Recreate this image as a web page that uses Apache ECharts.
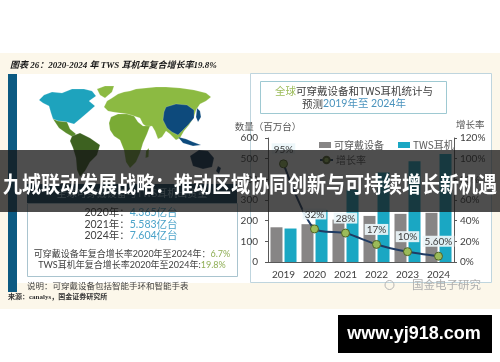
<!DOCTYPE html>
<html>
<head>
<meta charset="utf-8">
<script src="https://cdn.jsdelivr.net/npm/echarts@6/dist/echarts.min.js"></script>
<style>
html,body{margin:0;padding:0;background:#fff;}
#c{width:500px;height:362px;}
</style>
</head>
<body>
<div id="c"></div>
<script>
// ---- data ----
const years = ['2019', '2020', '2021', '2022', '2023', '2024'];
const wearables = [168, 183, 205, 223, 233, 238];
const tws = [162, 252, 350, 433, 487, 522];
const growth = [95, 32, 28, 17, 10, 5.6];
const growthLabels = ['95%', '32%', '28%', '17%', '10%', '5.60%'];
const seriesNames = ['可穿戴设备', 'TWS耳机', '增长率'];
const summaryYears = ['2020年：', '2021年：', '2024年：'];
const summaryValues = ['4.365亿台', '5.583亿台', '7.604亿台'];

const CJK = '"Noto Sans CJK SC", sans-serif';
const NUM = 'Lato, "Noto Sans CJK SC", sans-serif';

function poly(points, fill) {
  return { type: 'polygon', z: 1, shape: { points: points },
    style: { fill: fill, stroke: 'rgba(255,255,255,0.6)', lineWidth: 0.3 }, silent: true };
}

const mapEls = [
  // Eurasia (Europe, Middle East, Russia, India, SE Asia)
  poly([[104,107],[107,101],[112,98],[118,94],[124,92],[130,91],[136,89],[146,88],[156,87],[166,87],[180,88],[194,90],[206,93],[211,97],[206,101],[200,104],[196,110],[194,117],[189,125],[184,131],[180,138],[176,140],[170,134],[166,131],[162,137],[158,139],[155,131],[152,126],[147,127],[143,124],[140,118],[134,116],[127,114],[120,113],[113,112],[108,111]], '#8cba42'),
  // Africa
  poly([[111,117],[118,114],[127,114],[134,116],[138,122],[143,126],[150,126],[147,134],[143,143],[140,153],[136,162],[130,168],[126,162],[124,150],[120,140],[114,136],[110,130],[109,123]], '#7aab35'),
  poly([[146,151],[149,148],[148.5,157],[145.5,158]], '#7aab35'),
  // North America
  poly([[39,100],[44,95],[52,92],[62,93],[72,89],[84,89],[92,91],[96,96],[89,101],[95,106],[87,113],[80,119],[74,124],[67,122],[58,121],[53,119],[51,113],[49,106],[43,103]], '#1ea3bd'),
  // Greenland
  poly([[97,89],[105,86],[114,86],[112,92],[105,98],[100,95]], '#8cba42'),
  // Central America
  poly([[53,119],[58,121],[67,122],[70,129],[76,134],[73,137],[66,133],[59,128]], '#5a8c2c'),
  // South America
  poly([[72,136],[80,133],[90,138],[100,145],[97,155],[90,162],[85,171],[80,177],[77,170],[76,158],[73,148],[70,141]], '#3d6120'),
  // East Asia
  poly([[166,107],[176,104],[187,105],[194,110],[194,118],[188,125],[183,130],[178,135],[172,132],[167,128],[163,120],[164,112]], '#0d4a7c'),
  poly([[197,108],[200,111],[201,117],[198,122],[196,117]], '#0d4a7c'),
  poly([[178,137],[186,139],[193,142],[201,145],[193,146],[183,143]], '#0d4a7c'),
  // Australia
  poly([[190,156],[199,150],[208,151],[214,158],[212,167],[203,169],[193,166]], '#0b2f50'),
  poly([[218,166],[221,168],[219,174],[216,171]], '#0b2f50')
];

const chart = echarts.init(document.getElementById('c'), null, { renderer: 'canvas' });

const option = {
  backgroundColor: '#ffffff',
  animation: false,
  textStyle: { fontFamily: CJK },
  grid: { left: 268, right: 46, top: 138, bottom: 100, containLabel: false },
  legend: [
    {
      data: [seriesNames[0], seriesNames[1]],
      left: 314, top: 135, itemWidth: 12, itemHeight: 6, itemGap: 14,
      textStyle: { fontSize: 10, color: '#595959', fontFamily: CJK, padding: [0, 0, 0, -2] },
      icon: 'rect'
    },
    {
      data: [seriesNames[2]],
      left: 314, top: 150, itemWidth: 13, itemHeight: 8,
      textStyle: { fontSize: 10, color: '#595959', fontFamily: CJK, padding: [0, 0, 0, -2] }
    }
  ],
  xAxis: {
    type: 'category',
    data: years,
    axisLine: { lineStyle: { color: '#595959', width: 1 } },
    axisTick: { show: false },
    axisLabel: { fontSize: 10, color: '#404040', margin: 8, fontFamily: NUM }
  },
  yAxis: [
    {
      type: 'value', min: 0, max: 600, interval: 100,
      name: '数量（百万台）', nameLocation: 'end', nameGap: 7,
      nameTextStyle: { fontSize: 9.5, color: '#595959', fontFamily: CJK, align: 'center' },
      axisLine: { show: true, lineStyle: { color: '#595959' } },
      axisTick: { show: true, length: 3, lineStyle: { color: '#595959' } },
      splitLine: { show: false },
      axisLabel: { fontSize: 10, color: '#404040', margin: 10, fontFamily: NUM }
    },
    {
      type: 'value', min: 0, max: 120, interval: 20,
      name: '增长率', nameLocation: 'end', nameGap: 9,
      nameTextStyle: { fontSize: 9.5, color: '#595959', fontFamily: CJK, align: 'left', padding: [0, 0, 0, 2] },
      axisLine: { show: true, lineStyle: { color: '#595959' } },
      axisTick: { show: true, length: 3, lineStyle: { color: '#595959' } },
      splitLine: { show: false },
      axisLabel: { fontSize: 10, color: '#404040', margin: 6, fontFamily: NUM, formatter: '{value}%' }
    }
  ],
  series: [
    {
      name: seriesNames[0], type: 'bar', data: wearables, barWidth: 12, barGap: '17%',
      itemStyle: { color: '#878585' }, z: 2
    },
    {
      name: seriesNames[1], type: 'bar', data: tws, barWidth: 12, barGap: '17%',
      itemStyle: { color: '#1aa7c3' }, z: 2
    },
    {
      name: seriesNames[2], type: 'line', yAxisIndex: 1, data: growth, smooth: 0.25,
      symbol: 'circle', symbolSize: 8,
      lineStyle: { color: '#1f3b63', width: 2 },
      itemStyle: { color: '#9bbb59', borderColor: '#4f6228', borderWidth: 1 },
      label: {
        show: true, position: 'top', distance: 5,
        formatter: (p) => growthLabels[p.dataIndex],
        fontSize: 10, color: '#404040', fontFamily: NUM,
        backgroundColor: 'rgba(236,246,250,0.92)', padding: [1, 2, 0, 2]
      },
      z: 5
    }
  ],
  graphic: { elements: [
    { type: 'rect', z: -10, shape: { x: 0, y: 53, width: 500, height: 256 }, style: { fill: '#fcf7ea' }, silent: true },
    { type: 'rect', z: -9, shape: { x: 17, y: 74, width: 475, height: 209 }, style: { fill: '#ffffff' }, silent: true },
    { type: 'rect', z: -8, shape: { x: 250.5, y: 73.5, width: 241, height: 209 }, style: { fill: '#ffffff', stroke: '#bfd5de', lineWidth: 1 }, silent: true },
    { type: 'rect', z: -7, shape: { x: 8, y: 74, width: 9, height: 218 }, style: { fill: '#0c5a82' }, silent: true },
    { type: 'text', z: 1, x: 10, y: 66, style: { text: '图表 26：2020-2024 年 TWS 耳机年复合增长率19.8%', fontSize: 9, fontWeight: 'bold', fontStyle: 'italic', fontFamily: '"Liberation Serif", "Noto Sans CJK SC", serif', fill: '#1a1a1a', textVerticalAlign: 'middle' }, silent: true },
    ...mapEls,
    { type: 'rect', z: 1, shape: { x: 27, y: 184, width: 210, height: 19 }, style: { fill: '#0d3f5e' }, silent: true },
    { type: 'text', z: 1, x: 132, y: 193.5, style: { text: '全球可穿戴设备与TWS耳机出货量', fontSize: 10, fontFamily: CJK, fill: '#9fc4d6', textAlign: 'center', textVerticalAlign: 'middle' }, silent: true },
    { type: 'rect', z: 1, shape: { x: 27.5, y: 203.5, width: 210, height: 73 }, style: { fill: '#ffffff', stroke: '#a9c4cf', lineWidth: 1 }, silent: true },
    ...summaryYears.map((yl, i) => ({
      type: 'text', z: 2, x: 131, y: 213 + i * 11.5,
      style: {
        text: '{d|' + yl + '}{v|' + summaryValues[i] + '}',
        textAlign: 'center', textVerticalAlign: 'middle',
        rich: {
          d: { fontSize: 10.5, fontFamily: NUM, fill: '#404040' },
          v: { fontSize: 10.5, fontFamily: NUM, fill: '#4ba3c9' }
        }
      }, silent: true
    })),
    { type: 'text', z: 2, x: 132, y: 254, style: {
      text: '{d|可穿戴设备年复合增长率2020年至2024年：}{g|6.7%}', textAlign: 'center', textVerticalAlign: 'middle',
      rich: { d: { fontSize: 9, fontFamily: NUM, fill: '#404040' }, g: { fontSize: 9, fontFamily: NUM, fill: '#8fae55' } } }, silent: true },
    { type: 'text', z: 2, x: 132, y: 265, style: {
      text: '{d|TWS耳机年复合增长率2020年至2024年:}{g|19.8%}', textAlign: 'center', textVerticalAlign: 'middle',
      rich: { d: { fontSize: 9, fontFamily: NUM, fill: '#404040' }, g: { fontSize: 9, fontFamily: NUM, fill: '#8fae55' } } }, silent: true },
    { type: 'text', z: 2, x: 27, y: 286, style: { text: '说明：可穿戴设备包括智能手环和智能手表', fontSize: 8.5, fontFamily: CJK, fill: '#404040', textVerticalAlign: 'middle' }, silent: true },
    { type: 'text', z: 2, x: 8, y: 297.5, style: { text: '来源：canalys，国金证券研究所', fontSize: 7, fontFamily: '"Liberation Serif", "Noto Sans CJK SC", serif', fontWeight: 'bold', fill: '#333333', textVerticalAlign: 'middle' }, silent: true },
    { type: 'rect', z: 1, shape: { x: 260.5, y: 81.5, width: 186, height: 32 }, style: { fill: '#ffffff', stroke: '#9ec9d2', lineWidth: 1 }, silent: true },
    { type: 'text', z: 2, x: 354, y: 91.5, style: {
      text: '{g|全球}{d|可穿戴设备和TWS耳机统计与}', textAlign: 'center', textVerticalAlign: 'middle',
      rich: { g: { fontSize: 10.5, fontFamily: CJK, fill: '#9bbb59' }, d: { fontSize: 10.5, fontFamily: CJK, fill: '#404040' } } }, silent: true },
    { type: 'text', z: 2, x: 354, y: 104, style: {
      text: '{d|预测}{b|2019年至 2024年}', textAlign: 'center', textVerticalAlign: 'middle',
      rich: { d: { fontSize: 10.5, fontFamily: CJK, fill: '#404040' }, b: { fontSize: 10.5, fontFamily: NUM, fill: '#4a93bd' } } }, silent: true },
    { type: 'circle', z: 3, shape: { cx: 389.5, cy: 285, r: 4.5 }, style: { fill: 'none', stroke: '#b5b5b5', lineWidth: 1 }, silent: true },
    { type: 'text', z: 3, x: 412, y: 285, style: { text: '国金电子研究', fontSize: 11.5, fontFamily: CJK, fill: '#aeaeae', textVerticalAlign: 'middle' }, silent: true },
    { type: 'rect', z: 100, shape: { x: 0, y: 150, width: 500, height: 62 }, style: { fill: 'rgba(22,22,22,0.76)' }, silent: true },
    { type: 'text', z: 101, x: 250, y: 184, scaleY: 1.12, style: { text: '九城联动发展战略：推动区域协同创新与可持续增长新机遇', fontSize: 19, fontWeight: 'bold', fontFamily: CJK, fill: '#ffffff', textAlign: 'center', textVerticalAlign: 'middle' }, silent: true },
    { type: 'rect', z: 100, shape: { x: 338, y: 315, width: 154, height: 38 }, style: { fill: '#000000' }, silent: true },
    { type: 'text', z: 101, x: 414, y: 334, style: { text: 'www.yj918.com', fontSize: 18, fontWeight: 'bold', fontFamily: '"Liberation Sans", Arial, sans-serif', fill: '#ffffff', textAlign: 'center', textVerticalAlign: 'middle' }, silent: true }
  ] }
};
chart.setOption(option);
</script>
</body>
</html>
